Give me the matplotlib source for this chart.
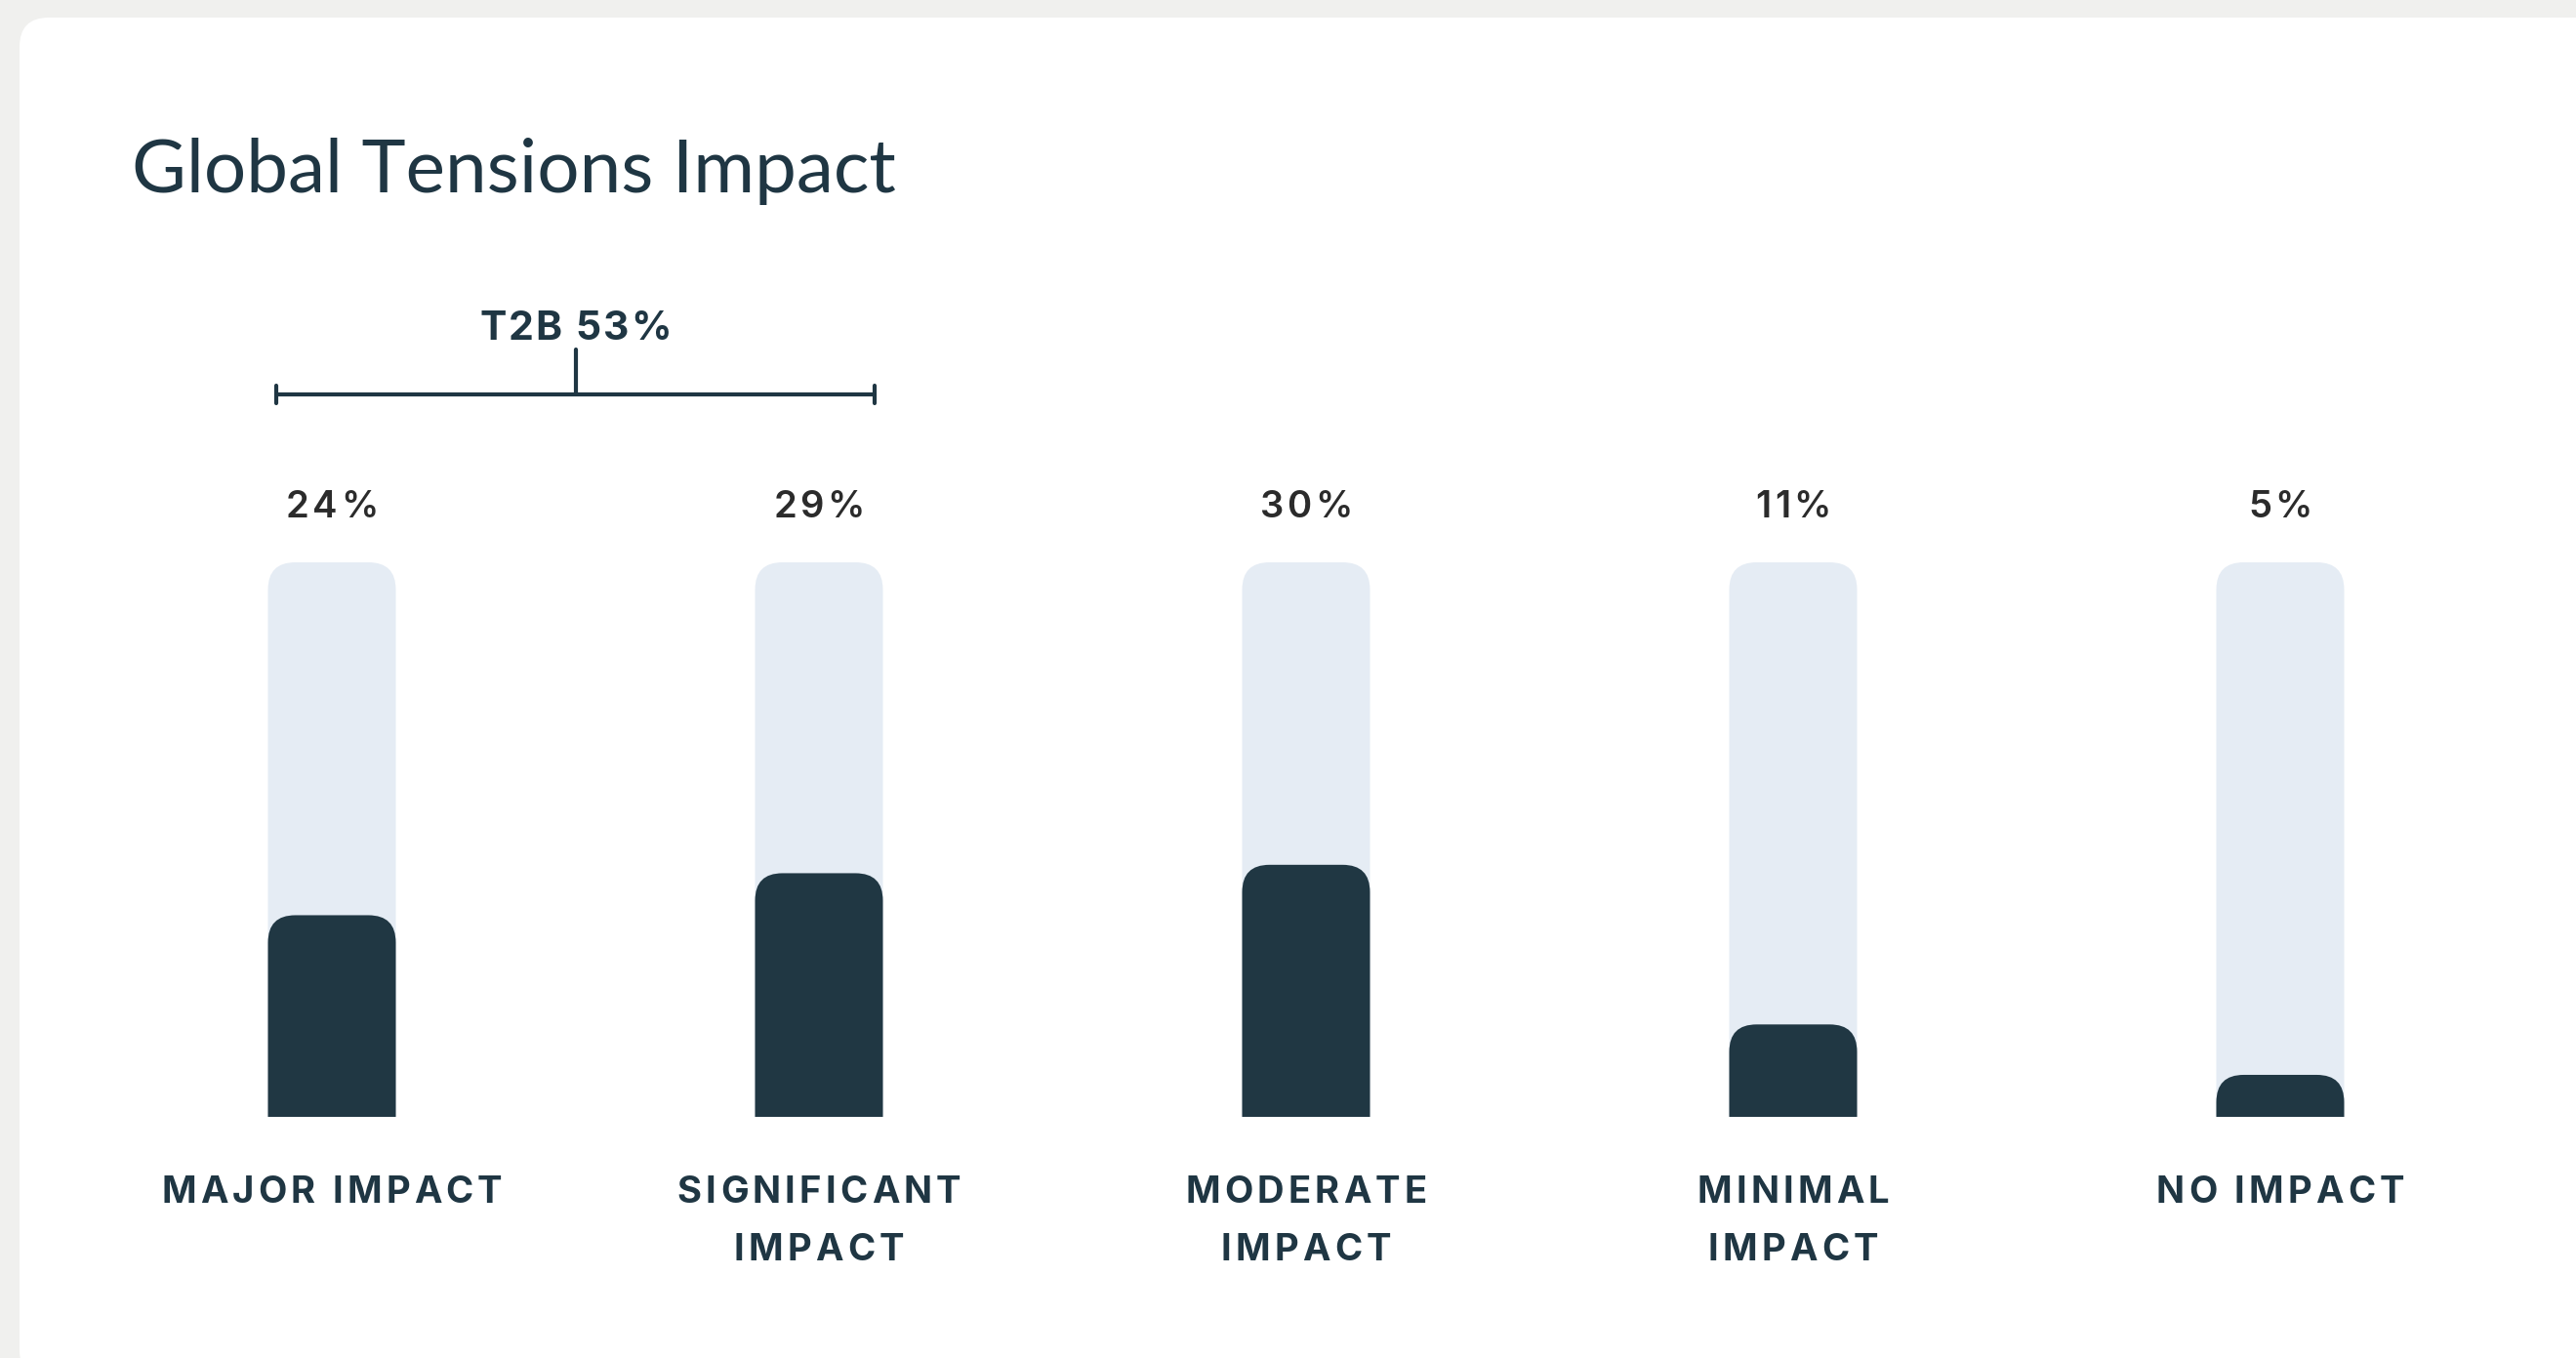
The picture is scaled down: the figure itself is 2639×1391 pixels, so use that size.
import matplotlib
matplotlib.use("Agg")
import matplotlib.pyplot as plt
from matplotlib.patches import FancyBboxPatch, Rectangle
from matplotlib.transforms import IdentityTransform, ScaledTranslation, blended_transform_factory
from matplotlib.font_manager import FontProperties
from matplotlib.textpath import TextToPath

# survey results
title = "Global Tensions Impact"
categories = ["MAJOR IMPACT", "SIGNIFICANT\nIMPACT", "MODERATE\nIMPACT", "MINIMAL\nIMPACT", "NO IMPACT"]
values = [24, 29, 30, 11, 5]
top_two = [0, 1]          # bars summed into the T2B bracket
track_max = 66            # value at the top of the light track

W, H, DPI = 2639, 1391, 100
BG = "#f0f0ee"
CARD = "#ffffff"
TRACK = "#e5ecf4"
FILL = "#203743"
INK = "#1f3643"
NUM = "#2b2b2b"

# layout in pixels
x0_px, step_px = 340, 499
base_px, top_px = H - 1144, H - 576
bar_px = 131
radius_px = 28

fig = plt.figure(figsize=(W / DPI, H / DPI), dpi=DPI, facecolor=BG)
card = FancyBboxPatch((20, -22), 2700, H - 18 + 22,
                      boxstyle="round,pad=0,rounding_size=30",
                      transform=IdentityTransform(), fc=CARD, ec="none", zorder=-5)
fig.patches.append(card)

ax = fig.add_axes([0, 0, 1, 1])
ax.set_facecolor("none")
ax.axis("off")
px_per_y = (top_px - base_px) / track_max
ax.set_xlim(-x0_px / step_px, (W - x0_px) / step_px)
ax.set_ylim(-base_px / px_per_y, (H - base_px) / px_per_y)

bar_w = bar_px / step_px
rx = radius_px / step_px
ry = radius_px / px_per_y
above_base = Rectangle((-5, 0), 20, 1000, transform=ax.transData)


def rounded_bar(x, h, color, z):
    # round box pushed below the baseline and clipped, so only the top is rounded
    p = FancyBboxPatch((x - bar_w / 2, -ry), bar_w, h + ry,
                       boxstyle=f"round,pad=0,rounding_size={rx}",
                       mutation_aspect=ry / rx, fc=color, ec="none", zorder=z)
    ax.add_patch(p)
    p.set_clip_path(above_base)


ttp = TextToPath()
ytrans = blended_transform_factory(ax.transData, IdentityTransform())


def tracked(x, y_px, s, size, weight, color, track_pt, family="Inter"):
    # draws one line char by char so the letters get extra spacing
    prop = FontProperties(family=family, size=size, weight=weight)
    width = lambda t: ttp.get_text_width_height_descent(t, prop, ismath=False)[0]
    ref = width("I")
    adv = [width(s[:i] + "I") - ref if i else 0 for i in range(len(s))]
    total = width(s) + track_pt * (len(s) - 1)
    for i, ch in enumerate(s):
        if ch == " ":
            continue
        dx = adv[i] + track_pt * i - total / 2
        tr = ytrans + ScaledTranslation(dx / 72, 0, fig.dpi_scale_trans)
        ax.text(x, y_px, ch, transform=tr, ha="left", va="baseline",
                fontproperties=prop, color=color)


for i, (cat, v) in enumerate(zip(categories, values)):
    rounded_bar(i, track_max, TRACK, 1)
    rounded_bar(i, v, FILL, 2)
    tracked(i, H - 530, f"{v}%", 27.5, "semibold", NUM, 2.5)
    for j, line in enumerate(cat.split("\n")):
        tracked(i, H - 1232 - j * 59, line, 27.5, "bold", INK, 3)

# top-two-box bracket
t2b = sum(values[k] for k in top_two)
bx0, bx1 = top_two[0] - 0.115, top_two[-1] + 0.115
by = H - 404
ax.plot([bx0, bx1], [by, by], transform=ytrans, color=INK, lw=3, solid_capstyle="butt")
for bx in (bx0, bx1):
    ax.plot([bx, bx], [by - 9, by + 9], transform=ytrans, color=INK, lw=3, solid_capstyle="round")
mid = (bx0 + bx1) / 2
ax.plot([mid, mid], [by, H - 358], transform=ytrans, color=INK, lw=3, solid_capstyle="round")
tracked(mid, H - 348, f"T2B {t2b}%", 29.5, "bold", INK, 1.5)

fig.text(135, H - 197, title, transform=IdentityTransform(), ha="left", va="baseline",
         fontsize=55, family="Lato", color=INK)

fig.savefig("out.png", dpi=DPI, facecolor=BG)
